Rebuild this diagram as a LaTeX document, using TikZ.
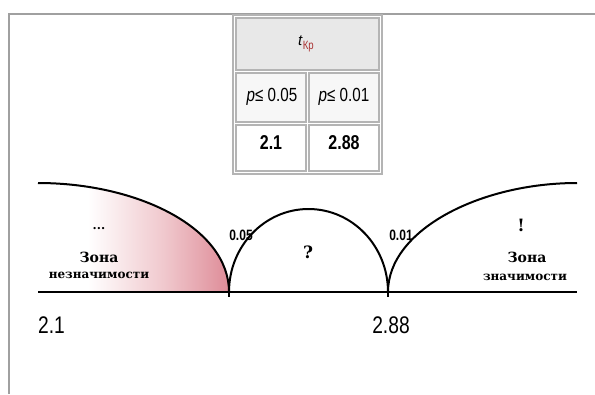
\documentclass[tikz,border=0pt]{standalone}
\usepackage{fontspec}
\setmainfont{Liberation Sans}
\newfontfamily\zonefont{DejaVu Serif}
\usepackage{graphicx}
\usetikzlibrary{calc}
\definecolor{framegray}{RGB}{160,160,160}
\definecolor{cellgray}{RGB}{180,180,180}
\definecolor{headfill}{RGB}{232,232,232}
\definecolor{rowfill}{RGB}{247,247,247}
\definecolor{zonepink}{RGB}{222,140,152}
\definecolor{zonepale}{RGB}{240,200,205}
\definecolor{krred}{RGB}{170,50,50}
\pgfdeclarehorizontalshading{zoneshade}{100bp}{color(0bp)=(white); color(38bp)=(white); color(58bp)=(zonepale); color(75bp)=(zonepink); color(100bp)=(zonepink)}
\tikzset{
	tabletext/.style={font=\fontsize{19}{19}\selectfont, inner sep=0pt}
}
\tikzset{
	numtext/.style={font=\bfseries\fontsize{20}{20}\selectfont, inner sep=0pt}
}
\tikzset{
	zonetext/.style={font=\zonefont\bfseries\fontsize{12}{12}\selectfont, inner sep=0pt}
}
\tikzset{
	levtext/.style={font=\bfseries\fontsize{15}{15}\selectfont, inner sep=0pt}
}
\newcommand{\narrow}[1]{\scalebox{0.8}[1]{#1}}

\begin{document}
\begin{tikzpicture}[x=1pt, y=-1pt]
      \useasboundingbox (0,0) rectangle (595,394);
      \draw[framegray, line width=2] (9,394) -- (9,14) -- (595,14);
      % table
      \draw[cellgray, line width=1.5] (233,15) rectangle (382,174);
      \draw[cellgray, line width=1.2, fill=headfill] (236,18) rectangle (379,70);
      \draw[cellgray, line width=1.2, fill=rowfill] (236,73) rectangle (306,122);
      \draw[cellgray, line width=1.2, fill=rowfill] (309,73) rectangle (379,122);
      \draw[cellgray, line width=1.2] (236,125) rectangle (306,171);
      \draw[cellgray, line width=1.2] (309,125) rectangle (379,171);
      \node[tabletext] (tkr) at (306,44) {\fontsize{15}{15}\selectfont\textit{t}\raisebox{-0.45ex}{\color{krred}\fontsize{12}{12}\selectfont\narrow{Кр}}};
      \node[tabletext] (p05) at (272,97) {\narrow{\textit{p}≤ 0.05}};
      \node[tabletext] (p01) at (344,97) {\narrow{\textit{p}≤ 0.01}};
      \node[numtext] (t05) at (271,143) {\narrow{2.1}};
      \node[numtext] (t01) at (344,143) {\narrow{2.88}};
      % zones
      \coordinate (lstart) at (38,183);
      \coordinate (crit1) at (229,292);
      \coordinate (crit2) at (388,292);
      \coordinate (rend) at (577,183);
      \shade[shading=zoneshade] (lstart) .. controls (138,183) and (229,228) .. (crit1) -- (38,292) -- cycle;
      \draw[line width=2] (lstart) .. controls (138,183) and (229,228) .. (crit1);
      \draw[line width=2] (crit1) arc[start angle=180, end angle=360, x radius=79.5, y radius=83];
      \draw[line width=2] (crit2) .. controls (388,230) and (480,183) .. (rend);
      \draw[line width=2.5] (38,292) -- (577,292);
      \draw[line width=1.5] (crit1) -- ++(0,5);
      \draw[line width=1.5] (crit2) -- ++(0,5);
      \node[zonetext] (ldots) at (99,229) {...};
      \node[zonetext, font=\zonefont\bfseries\fontsize{14}{14}\selectfont] (lzone) at (99,257) {Зона};
      \node[zonetext] (lname) at (99,275) {незначимости};
      \node[levtext] (l05) at (241,235) {\narrow{0.05}};
      \node[zonetext, font=\zonefont\bfseries\fontsize{17}{17}\selectfont] (quest) at (308,252) {?};
      \node[levtext] (l01) at (401,235) {\narrow{0.01}};
      \node[zonetext, font=\zonefont\bfseries\fontsize{17}{17}\selectfont] (excl) at (521,225) {!};
      \node[zonetext, font=\zonefont\bfseries\fontsize{14}{14}\selectfont] (rzone) at (527,257) {Зона};
      \node[zonetext] (rname) at (525,277) {значимости};
      % axis values
      \node[font=\fontsize{24}{24}\selectfont, inner sep=0pt, anchor=west] (lowval) at (38,325) {\narrow{2.1}};
      \node[font=\fontsize{24}{24}\selectfont, inner sep=0pt] (highval) at (391,325) {\narrow{2.88}};
    \end{tikzpicture}
\end{document}
